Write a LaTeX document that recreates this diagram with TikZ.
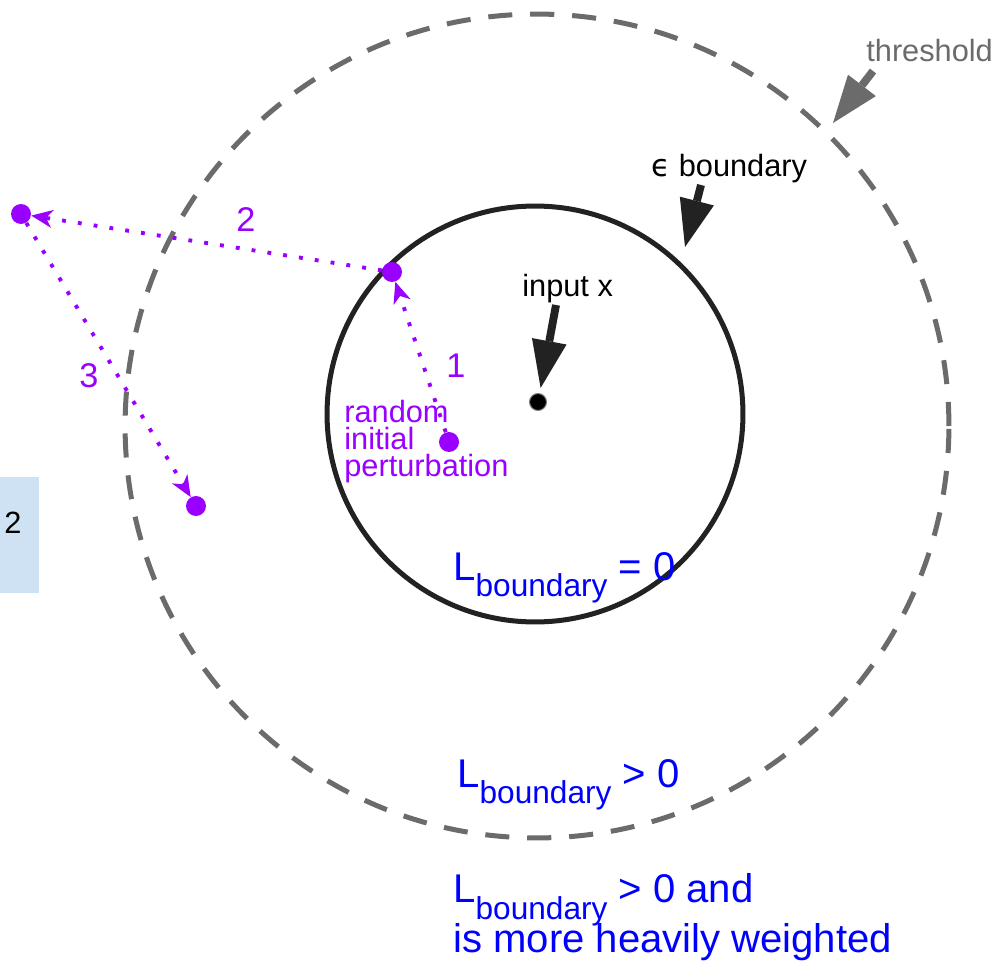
\documentclass[tikz,border=0pt]{standalone}
\usepackage{fontspec}
\setmainfont{Liberation Sans}
\newfontfamily\epsfont{DejaVu Sans}
\usetikzlibrary{arrows.meta}

\definecolor{pert}{HTML}{9900FF}
\definecolor{ringgray}{HTML}{6B6B6B}
\definecolor{ringdark}{HTML}{222222}
\definecolor{lossblue}{HTML}{0000FF}
\definecolor{tabblue}{HTML}{CFE2F3}

\newcommand{\Lbd}{L\smash{\raisebox{-9.5pt}{\fontsize{18}{20}\selectfont boundary}}}

\tikzset{
  lbl/.style={font=\fontsize{17.5}{15.4}\selectfont, inner sep=0pt},
  steplbl/.style={font=\fontsize{19.5}{20}\selectfont, inner sep=0pt, text=pert, anchor=base},
  loss/.style={font=\fontsize{22.8}{27.9}\selectfont, text=lossblue, inner sep=0pt, anchor=base west, align=left},
  pdot/.style={circle, fill=pert, inner sep=0pt, minimum size=0.4cm},
  pstep/.style={pert, line width=2.2pt, dash pattern=on 2.2pt off 6.9pt,
    -{Stealth[length=12pt, width=10pt, inset=3.5pt]}},
  bigarrow/.style={line width=4.5pt, -{Triangle[length=27pt, width=20pt, line width=0pt]}},
}

\begin{document}
\begin{tikzpicture}[x=0.02cm, y=-0.02cm]
    \useasboundingbox (0,0) rectangle (1000,962);

    % side tab
    \fill[tabblue] (0,477) rectangle (39,593);
    \node[lbl, anchor=base west] (tabnum) at (4,533) {2};

    % threshold and epsilon rings
    \node[circle, draw=ringgray, line width=2.85pt, dash pattern=on 13.7pt off 10.2pt,
      inner sep=0pt, minimum size=16.48cm] (thr) at (537,426) {};
    \node[circle, draw=ringdark, line width=2.85pt,
      inner sep=0pt, minimum size=8.32cm] (eps) at (535,414) {};

    % input point
    \node[circle, fill=black, draw=gray, line width=0.6pt, inner sep=0pt, minimum size=0.34cm] (xin) at (538,402) {};

    % perturbation steps
    \node[pdot] (p0) at (449,442) {};
    \node[pdot] (p1) at (392,272) {};
    \node[pdot] (p2) at (21,214) {};
    \node[pdot] (p3) at (196,506) {};

    \draw[pstep] (p0) -- (p1);
    \draw[pstep] (p1) -- (p2);
    \draw[pstep] (p2) -- (p3);

    \node[steplbl] (n1) at (456,378) {1};
    \node[steplbl] (n2) at (246,232) {2};
    \node[steplbl] (n3) at (89,388) {3};
    \node[lbl, text=pert, anchor=base west, align=left] (initlbl) at (344,477) {random\\initial\\perturbation};

    % pointers
    \node[lbl, anchor=base west] (inlbl) at (522,297) {input x};
    \node[lbl, anchor=base west] (epslbl) at (651,177) {{\epsfont ϵ} boundary};
    \node[lbl, anchor=base west, text=ringgray] (thrlbl) at (866,62) {threshold};

    \coordinate (inroot) at (556,305);
    \coordinate (epsroot) at (701,185);
    \coordinate (epstip) at (685,247);
    \coordinate (throot) at (873,71);
    \coordinate (thrtip) at (833,123);

    \draw[bigarrow, ringdark, shorten >=3pt] (inroot) -- (xin);
    \draw[bigarrow, ringdark] (epsroot) -- (epstip);
    \draw[bigarrow, ringgray] (throot) -- (thrtip);

    % loss regions
    \node[loss] (loss0) at (453,580) {\Lbd{} = 0};
    \node[loss] (loss1) at (457,787) {\Lbd{} > 0};
    \node[loss] (loss2) at (453,952) {\Lbd{} > 0 and\\is more heavily weighted};
\end{tikzpicture}
\end{document}
